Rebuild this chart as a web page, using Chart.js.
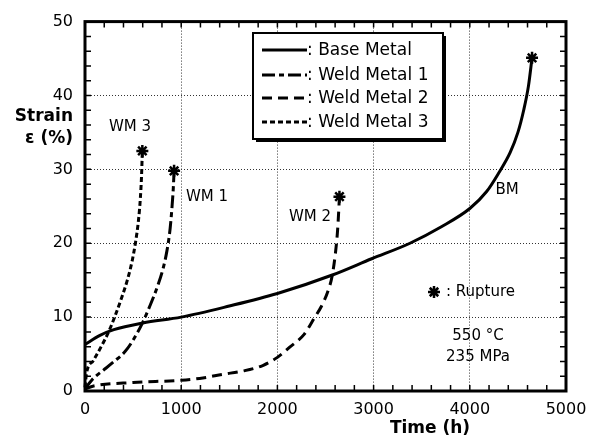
<!DOCTYPE html>
<html>
<head>
<meta charset="utf-8">
<script src="https://cdn.jsdelivr.net/npm/chart.js@4.4.0/dist/chart.umd.min.js"></script>
<style>
  html, body { margin: 0; padding: 0; background: #fff; }
  #wrap { width: 600px; height: 443px; }
</style>
</head>
<body>
<div id="wrap"><canvas id="creepChart" width="600" height="443"></canvas></div>
<script>
// creep curves (time in h, strain in %)
const bmTime = [0, 150, 300, 600, 1000, 1500, 2000, 2571, 2980, 3378, 3700, 4000, 4175, 4300, 4420, 4500, 4560, 4610, 4647];
const bmStrain = [6.3, 7.5, 8.3, 9.2, 10.0, 11.5, 13.2, 15.7, 17.9, 20.0, 22.2, 24.7, 27.0, 29.5, 32.3, 35.0, 38.0, 41.3, 45.1];

const wm1Time = [0, 86, 190, 293, 414, 501, 604, 674, 760, 812, 852, 885, 905, 918, 926];
const wm1Strain = [0.3, 1.7, 2.8, 3.9, 5.3, 6.9, 9.4, 11.5, 14.4, 16.6, 19.0, 22.0, 25.0, 27.5, 29.8];

const wm2Time = [0, 100, 500, 1000, 1225, 1432, 1640, 1848, 2000, 2125, 2280, 2385, 2455, 2525, 2571, 2612, 2628, 2645];
const wm2Strain = [0.3, 0.7, 1.15, 1.46, 1.77, 2.26, 2.7, 3.45, 4.55, 5.9, 7.7, 9.9, 11.4, 13.5, 15.7, 19.7, 22.2, 26.3];

const wm3Time = [0, 17, 86, 172, 242, 311, 380, 440, 490, 525, 555, 575, 588, 596];
const wm3Strain = [0.5, 2.5, 4.1, 6.1, 7.9, 10.1, 12.6, 15.0, 17.6, 20.1, 23.0, 26.0, 29.2, 32.5];

const seriesNames = ['Base Metal', 'Weld Metal 1', 'Weld Metal 2', 'Weld Metal 3'];
const xTicks = [0, 1000, 2000, 3000, 4000, 5000];
const yTicks = [0, 10, 20, 30, 40, 50];

const FONT = "'DejaVu Sans', sans-serif";

function toPoints(ts, ys) {
    return ts.map((t, i) => ({ x: t, y: ys[i] }));
}

function curve(label, ts, ys, dash) {
    const last = ts.length - 1;
    return {
        label: label,
        data: toPoints(ts, ys),
        borderColor: '#000',
        borderWidth: 3,
        borderDash: dash,
        borderCapStyle: 'butt',
        cubicInterpolationMode: 'monotone',
        fill: false,
        pointStyle: 'star',
        pointRadius: ctx => ctx.dataIndex === last ? 6 : 0,
        pointHoverRadius: ctx => ctx.dataIndex === last ? 6 : 0,
        pointBorderWidth: 2.5,
        pointBorderColor: '#000',
        pointBackgroundColor: '#000'
    };
}

const dashes = [[], [13, 4, 5, 4], [10, 6], [5, 3]];

function drawStar(ctx, x, y, r) {
    ctx.save();
    ctx.strokeStyle = '#000';
    ctx.lineWidth = 2.5;
    ctx.beginPath();
    for (let k = 0; k < 4; k++) {
        const a = k * Math.PI / 4;
        ctx.moveTo(x - r * Math.cos(a), y - r * Math.sin(a));
        ctx.lineTo(x + r * Math.cos(a), y + r * Math.sin(a));
    }
    ctx.stroke();
    ctx.restore();
}

// frame, inward ticks, legend box and annotations
const decorPlugin = {
    id: 'decor',
    afterDatasetsDraw(chart) {
        const { ctx, chartArea: a, scales: { x, y } } = chart;
        ctx.save();

        // inward ticks on all four sides
        ctx.strokeStyle = '#000';
        ctx.lineWidth = 1.5;
        ctx.beginPath();
        for (let t = 200; t < 5000; t += 200) {
            const px = x.getPixelForValue(t);
            ctx.moveTo(px, a.bottom); ctx.lineTo(px, a.bottom - 6);
            ctx.moveTo(px, a.top); ctx.lineTo(px, a.top + 6);
        }
        for (let v = 2; v < 50; v += 2) {
            const py = y.getPixelForValue(v);
            ctx.moveTo(a.left, py); ctx.lineTo(a.left + 6, py);
            ctx.moveTo(a.right, py); ctx.lineTo(a.right - 6, py);
        }
        ctx.stroke();

        // frame
        ctx.lineWidth = 3;
        ctx.strokeRect(a.left, a.top, a.right - a.left, a.bottom - a.top);

        // legend box with shadow
        const bx = 253, by = 33, bw = 190, bh = 106;
        ctx.fillStyle = '#000';
        ctx.fillRect(bx + 3, by + 3, bw, bh);
        ctx.fillStyle = '#fff';
        ctx.fillRect(bx, by, bw, bh);
        ctx.lineWidth = 2;
        ctx.strokeRect(bx, by, bw, bh);

        const rows = [50, 75, 98, 122];
        ctx.font = '17px ' + FONT;
        ctx.textBaseline = 'middle';
        ctx.textAlign = 'left';
        chart.data.datasets.forEach((ds, i) => {
            ctx.beginPath();
            ctx.lineWidth = 3;
            ctx.setLineDash(ds.borderDash);
            ctx.moveTo(262, rows[i]);
            ctx.lineTo(307, rows[i]);
            ctx.stroke();
            ctx.setLineDash([]);
            ctx.fillStyle = '#000';
            ctx.fillText(': ' + seriesNames[i], 307, rows[i] + 1);
        });

        // curve labels
        ctx.font = '15px ' + FONT;
        ctx.textAlign = 'center';
        ctx.fillText('WM 3', 130, 127);
        ctx.fillText('WM 1', 207, 197);
        ctx.fillText('WM 2', 310, 217);
        ctx.fillText('BM', 507, 190);

        // rupture note and test conditions
        drawStar(ctx, 434, 292, 6);
        ctx.textAlign = 'left';
        ctx.fillText(': Rupture', 446, 292);
        ctx.textAlign = 'center';
        ctx.fillText('550 \u00B0C', 478, 336);
        ctx.fillText('235 MPa', 478, 357);

        // axis titles
        ctx.font = 'bold 17px ' + FONT;
        ctx.textAlign = 'right';
        ctx.fillText('Strain', 73, 117);
        ctx.fillText('\u03B5 (%)', 73, 139);
        ctx.textAlign = 'center';
        ctx.fillText('Time (h)', 430, 429);

        ctx.restore();
    }
};

new Chart(document.getElementById('creepChart').getContext('2d'), {
    type: 'line',
    data: {
        datasets: [
            curve(seriesNames[0], bmTime, bmStrain, dashes[0]),
            curve(seriesNames[1], wm1Time, wm1Strain, dashes[1]),
            curve(seriesNames[2], wm2Time, wm2Strain, dashes[2]),
            curve(seriesNames[3], wm3Time, wm3Strain, dashes[3])
        ]
    },
    options: {
        responsive: false,
        animation: false,
        clip: false,
        layout: { padding: { left: 0, top: 13, right: 34, bottom: 0 } },
        plugins: {
            legend: { display: false },
            tooltip: { enabled: false }
        },
        scales: {
            x: {
                type: 'linear',
                min: 0,
                max: 5000,
                afterFit: s => { s.height = 52; },
                afterBuildTicks: s => { s.ticks = xTicks.map(v => ({ value: v })); },
                ticks: { color: '#000', padding: 9, font: { family: FONT, size: 16 }, maxRotation: 0, callback: v => String(v) },
                grid: { color: '#333', lineWidth: 1, drawTicks: false },
                border: { display: false, dash: [1, 2] }
            },
            y: {
                type: 'linear',
                min: 0,
                max: 50,
                afterFit: s => { s.width = 85; },
                afterBuildTicks: s => { s.ticks = yTicks.map(v => ({ value: v })); },
                ticks: { color: '#000', padding: 12, font: { family: FONT, size: 16 }, callback: v => String(v) },
                grid: { color: '#333', lineWidth: 1, drawTicks: false },
                border: { display: false, dash: [1, 2] }
            }
        }
    },
    plugins: [decorPlugin]
});
</script>
</body>
</html>
